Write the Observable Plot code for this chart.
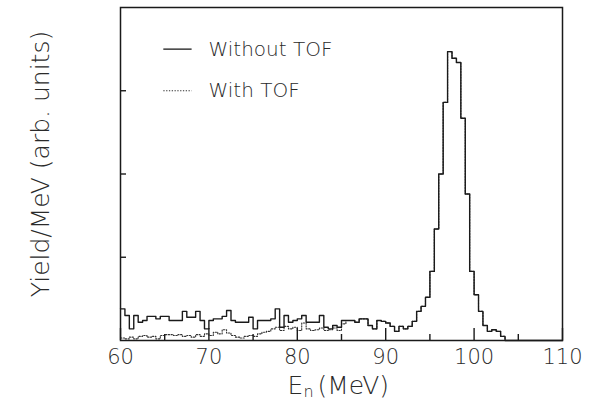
<!DOCTYPE html>
<html>
<head>
<meta charset="utf-8">
<script src="https://cdn.jsdelivr.net/npm/d3@7"></script>
<script src="https://cdn.jsdelivr.net/npm/@observablehq/plot@0.6"></script>
<style>
  html, body { margin: 0; padding: 0; background: #fff; }
  #chart svg { display: block; }
  #chart svg text { font-weight: 200; }
</style>
</head>
<body>
<div id="chart"></div>
<script>
// ---- data ----
const xTicks = [60, 70, 80, 90, 100, 110];
const xMinorTicks = [65, 75, 85, 95, 105];
const yTicks = [1, 2, 3];

// Yield per 0.5 MeV bin, bins starting at 60.0, 60.5, ... 109.5
const withoutTOF = [
  0.38, 0.30, 0.14, 0.30, 0.22, 0.24, 0.29, 0.29, 0.26, 0.29,
  0.29, 0.24, 0.24, 0.24, 0.35, 0.28, 0.28, 0.35, 0.24, 0.14,
  0.24, 0.26, 0.26, 0.29, 0.36, 0.24, 0.22, 0.22, 0.22, 0.28,
  0.14, 0.24, 0.24, 0.24, 0.26, 0.38, 0.16, 0.30, 0.22, 0.24,
  0.26, 0.30, 0.22, 0.22, 0.22, 0.30, 0.16, 0.14, 0.18, 0.16,
  0.24, 0.24, 0.24, 0.22, 0.26, 0.26, 0.18, 0.14, 0.24, 0.23,
  0.21, 0.17, 0.11, 0.17, 0.14, 0.17, 0.23, 0.35, 0.41, 0.52,
  0.83, 1.34, 2.00, 2.86, 3.47, 3.39, 3.34, 2.67, 1.76, 0.83,
  0.55, 0.35, 0.18, 0.11, 0.13, 0.11, 0.05, 0, 0, 0,
  0, 0, 0, 0, 0, 0, 0, 0, 0, 0
];
const withTOF = [
  0.03, 0.02, 0.04, 0.02, 0.05, 0.06, 0.04, 0.05, 0.02, 0.06,
  0.07, 0.07, 0.06, 0.07, 0.05, 0.06, 0.04, 0.07, 0.05, 0.08,
  0.06, 0.10, 0.08, 0.13, 0.09, 0.06, 0.04, 0.03, 0.05, 0.06,
  0.05, 0.08, 0.10, 0.11, 0.14, 0.16, 0.12, 0.17, 0.14, 0.16,
  0.12, 0.21, 0.14, 0.12, 0.13, 0.15, 0.12, 0.13, 0.15, 0.12,
  0.20, 0.24, 0.24, 0.22, 0.26, 0.26, 0.18, 0.14, 0.24, 0.23,
  0.21, 0.17, 0.11, 0.17, 0.14, 0.17, 0.23, 0.35, 0.41, 0.52,
  0.83, 1.34, 2.00, 2.86, 3.47, 3.39, 3.34, 2.67, 1.76, 0.83,
  0.55, 0.35, 0.18, 0.11, 0.13, 0.11, 0.05, 0, 0, 0,
  0, 0, 0, 0, 0, 0, 0, 0, 0, 0
];
const legendItems = [
  {label: "Without TOF", y: 3.5, dashed: false},
  {label: "With TOF", y: 3.0, dashed: true}
];
// x-axis title "E_n (MeV)" as main symbol, subscript and unit
const xLabelParts = ["E", "n", "(MeV)"];
const yLabel = "Yield/MeV (arb. units)";

// ---- layout ----
const W = 590, H = 403;
const M = {top: 7, right: 28, bottom: 63, left: 120};
const xDomain = [60, 110], yDomain = [0, 4];
const binWidth = 0.5;
const pxX = (xDomain[1] - xDomain[0]) / (W - M.left - M.right);
const pxY = (yDomain[1] - yDomain[0]) / (H - M.top - M.bottom);
const legendLineX = [64.9, 68.1];
const legendTextX = 69.95;

const energies = withoutTOF.map((_, i) => xDomain[0] + i * binWidth);
const stepRows = vals => energies.map((e, i) => ({E: e, v: vals[i]}))
  .concat([{E: xDomain[1], v: vals[vals.length - 1]}]);

const ink = "#1a1a1a";
const textInk = "#2a2a2a";
const font = "'DejaVu Sans', 'Liberation Sans', sans-serif";
const titleStyle = {frameAnchor: "bottom", lineAnchor: "middle", textAnchor: "start", fill: textInk};

const chart = Plot.plot({
  width: W,
  height: H,
  marginTop: M.top,
  marginRight: M.right,
  marginBottom: M.bottom,
  marginLeft: M.left,
  style: {fontFamily: font, color: textInk, background: "#fff", overflow: "visible"},
  x: {domain: xDomain, axis: null},
  y: {domain: yDomain, axis: null},
  marks: [
    Plot.line(stepRows(withTOF), {x: "E", y: "v", curve: "step-after",
      stroke: "#333", strokeWidth: 1.1, strokeDasharray: "1.3,1.5"}),
    Plot.line(stepRows(withoutTOF), {x: "E", y: "v", curve: "step-after",
      stroke: ink, strokeWidth: 1.4}),
    Plot.ruleX(xTicks, {y1: 0, y2: 12 * pxY, stroke: ink, strokeWidth: 1.4}),
    Plot.ruleX(xMinorTicks, {y1: 0, y2: 6 * pxY, stroke: ink, strokeWidth: 1.4}),
    Plot.ruleY(yTicks, {x1: xDomain[0], x2: xDomain[0] + 6 * pxX, stroke: ink, strokeWidth: 1.4}),
    Plot.frame({stroke: ink, strokeWidth: 1.5}),
    Plot.axisX({ticks: xTicks, tickSize: 0, tickPadding: 9, fontSize: 21,
      tickFormat: d => String(d), label: null, fill: textInk}),
    Plot.text([xLabelParts[0]], {...titleStyle, dx: -54, dy: 45, fontSize: 25}),
    Plot.text([xLabelParts[1]], {...titleStyle, dx: -38, dy: 51, fontSize: 16}),
    Plot.text([xLabelParts[2]], {...titleStyle, dx: -24, dy: 45, fontSize: 25}),
    Plot.text([yLabel], {frameAnchor: "left", rotate: -90, lineAnchor: "middle", textAnchor: "middle",
      dx: -80, dy: -10, fontSize: 25, fill: textInk}),
    // legend
    Plot.ruleY(legendItems.filter(d => !d.dashed), {y: "y", x1: legendLineX[0], x2: legendLineX[1], stroke: ink, strokeWidth: 1.3}),
    Plot.ruleY(legendItems.filter(d => d.dashed), {y: "y", x1: legendLineX[0], x2: legendLineX[1], stroke: "#333", strokeWidth: 1.1, strokeDasharray: "1.3,1.5"}),
    Plot.text(legendItems, {x: () => legendTextX, y: "y", text: "label", textAnchor: "start", fontSize: 20, fill: textInk})
  ]
});
document.getElementById("chart").appendChild(chart);
</script>
</body>
</html>
